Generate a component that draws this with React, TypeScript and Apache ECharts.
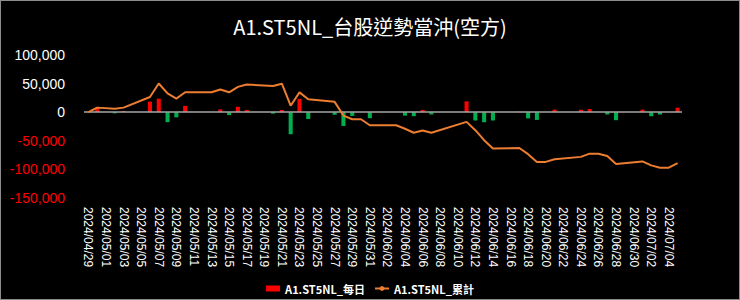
import { useEffect, useRef } from 'react';
import * as echarts from 'echarts';

const TITLE = 'A1.ST5NL_台股逆勢當沖(空方)';
const DAILY_NAME = 'A1.ST5NL_每日';
const CUM_NAME = 'A1.ST5NL_累計';

const FIRST_DAY = '2024/04/29';
const LAST_DAY = '2024/07/05';

const tradeDates = [
  '2024/04/29', '2024/04/30', '2024/05/02', '2024/05/03', '2024/05/06', '2024/05/07',
  '2024/05/08', '2024/05/09', '2024/05/10', '2024/05/13', '2024/05/14', '2024/05/15',
  '2024/05/16', '2024/05/17', '2024/05/20', '2024/05/21', '2024/05/22', '2024/05/23',
  '2024/05/24', '2024/05/27', '2024/05/28', '2024/05/29', '2024/05/30', '2024/05/31',
  '2024/06/03', '2024/06/04', '2024/06/05', '2024/06/06', '2024/06/07', '2024/06/11',
  '2024/06/12', '2024/06/13', '2024/06/14', '2024/06/17', '2024/06/18', '2024/06/19',
  '2024/06/20', '2024/06/21', '2024/06/24', '2024/06/25', '2024/06/26', '2024/06/27',
  '2024/06/28', '2024/07/01', '2024/07/02', '2024/07/03', '2024/07/04', '2024/07/05',
];

const daily = [
  0, 8000, -2000, 2000, 18500, 23700,
  -17400, -9000, 11000, 0, 5000, -5000,
  9500, 4000, -2500, 4000, -38500, 23300,
  -12000, -4500, -24000, -6500, 0, -10500,
  0, -6000, -7000, 4000, -4000, 19000,
  -14500, -17500, -14500, 800, -10800, -13500,
  0, 4500, 4300, 5600, 0, -4000,
  -14000, 4500, -7000, -4000, 0, 7800,
];

const cumulative = [
  0, 8000, 6000, 8000, 26500, 50200,
  32800, 23800, 34800, 34800, 39800, 34800,
  44300, 48300, 45800, 49800, 11300, 34600,
  22600, 18100, -5900, -12400, -12400, -22900,
  -22900, -28900, -35900, -31900, -35900, -16900,
  -31400, -48900, -63400, -62600, -73400, -86900,
  -86900, -82400, -78100, -72500, -72500, -76500,
  -90500, -86000, -93000, -97000, -97000, -89200,
];

const Y_MIN = -150000;
const Y_MAX = 100000;
const Y_STEP = 50000;

const RED = '#FF0000';
const GREEN = '#00B050';
const ORANGE = '#ED7D31';

function pad(n: number) {
  return n < 10 ? '0' + n : String(n);
}

function buildDays(first: string, last: string): string[] {
  const [y1, m1, d1] = first.split('/').map(Number);
  const [y2, m2, d2] = last.split('/').map(Number);
  let t = Date.UTC(y1, m1 - 1, d1);
  const end = Date.UTC(y2, m2 - 1, d2);
  const out: string[] = [];
  while (t <= end) {
    const dt = new Date(t);
    out.push(`${dt.getUTCFullYear()}/${pad(dt.getUTCMonth() + 1)}/${pad(dt.getUTCDate())}`);
    t += 86400000;
  }
  return out;
}

function fmt(v: number) {
  const s = Math.abs(v).toString().replace(/\B(?=(\d{3})+(?!\d))/g, ',');
  return v < 0 ? '-' + s : s;
}

export default function App() {
  const ref = useRef<HTMLDivElement>(null);

  useEffect(() => {
    if (!ref.current) return;
    const chart = echarts.init(ref.current, null, { renderer: 'svg' });
    const days = buildDays(FIRST_DAY, LAST_DAY);
    const idx: Record<string, number> = {};
    tradeDates.forEach((d, i) => (idx[d] = i));

    const barData = days.map((d) => {
      const i = idx[d];
      if (i === undefined) return null;
      const v = daily[i];
      return { value: v, itemStyle: { color: v < 0 ? GREEN : RED } };
    });
    const lineData = days.map((d) => {
      const i = idx[d];
      return i === undefined ? null : cumulative[i];
    });

    const cjk = '"Noto Sans CJK TC", "Noto Sans", sans-serif';
    const latin = '"Liberation Sans", "Noto Sans", sans-serif';

    chart.setOption({
      animation: false,
      backgroundColor: '#000000',
      title: {
        text: TITLE,
        left: 'center',
        top: 10,
        textStyle: { color: '#ffffff', fontSize: 20, fontWeight: 'normal', fontFamily: cjk },
      },
      legend: {
        top: 277,
        left: 'center',
        itemWidth: 14,
        itemHeight: 6,
        itemGap: 9,
        textStyle: { color: '#ffffff', fontSize: 11, fontWeight: 'bold', fontFamily: cjk },
        data: [
          { name: DAILY_NAME, icon: 'rect' },
          { name: CUM_NAME },
        ],
      },
      grid: { left: 83, right: 57, top: 54, bottom: 101 },
      xAxis: {
        type: 'category',
        data: days,
        boundaryGap: true,
        axisLine: { show: false },
        axisTick: { show: false },
        splitLine: { show: false },
        axisLabel: {
          interval: 1,
          rotate: -90,
          color: '#ffffff',
          fontSize: 12,
          margin: 9,
          fontFamily: latin,
        },
      },
      yAxis: {
        type: 'value',
        min: Y_MIN,
        max: Y_MAX,
        interval: Y_STEP,
        axisLine: { show: false },
        axisTick: { show: false },
        splitLine: { show: false },
        axisLabel: {
          margin: 19,
          fontSize: 14,
          fontFamily: latin,
          formatter: (v: number) => (v < 0 ? `{neg|${fmt(v)}}` : `{pos|${fmt(v)}}`),
          rich: {
            pos: { color: '#ffffff', fontSize: 14, fontFamily: latin },
            neg: { color: RED, fontSize: 14, fontFamily: latin },
          },
        },
      },
      series: [
        {
          name: DAILY_NAME,
          type: 'bar',
          data: barData,
          barWidth: '46%',
          itemStyle: { color: RED },
          markLine: {
            silent: true,
            symbol: ['none', 'none'],
            label: { show: false },
            lineStyle: { color: '#a6a6a6', width: 1.5, type: 'solid' },
            data: [{ yAxis: 0 }],
          },
        },
        {
          name: CUM_NAME,
          type: 'line',
          data: lineData,
          connectNulls: true,
          symbol: 'none',
          lineStyle: { color: ORANGE, width: 2 },
          itemStyle: { color: ORANGE },
          z: 5,
        },
      ],
    });
    return () => chart.dispose();
  }, []);

  return (
    <div
      style={{
        position: 'fixed',
        left: 0,
        top: 0,
        width: 740,
        height: 300,
        boxSizing: 'border-box',
        border: '1px solid #8c8c8c',
        background: '#000',
      }}
    >
      <div ref={ref} style={{ width: 738, height: 298 }} />
    </div>
  );
}
